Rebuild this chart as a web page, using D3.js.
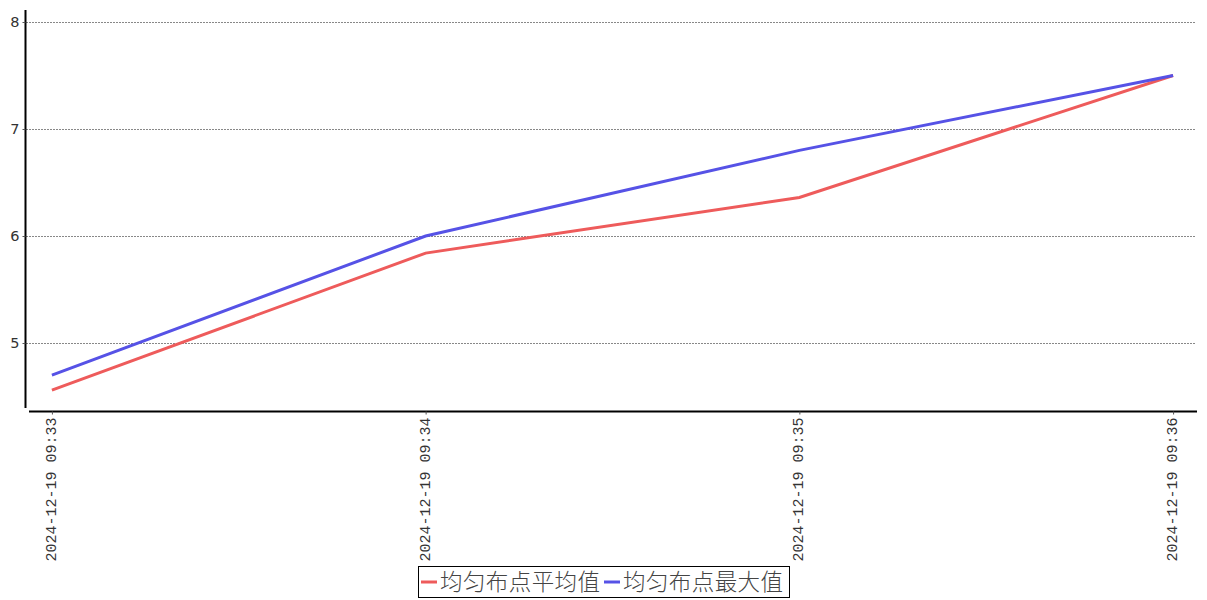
<!DOCTYPE html>
<html>
<head>
<meta charset="utf-8">
<script src="https://cdn.jsdelivr.net/npm/d3@7"></script>
<style>
  body { margin: 0; background: #fff; }
  svg { display: block; }
</style>
</head>
<body>
<svg id="chart" width="1207" height="600"></svg>
<script>
// chart data
const times = ["2024-12-19 09:33", "2024-12-19 09:34", "2024-12-19 09:35", "2024-12-19 09:36"];
const avgValues = [4.56, 5.84, 6.36, 7.50];
const maxValues = [4.70, 6.00, 6.80, 7.50];
const yTicks = [5, 6, 7, 8];
const seriesNames = ["均匀布点平均值", "均匀布点最大值"];
const seriesColors = ["#ee5b5b", "#5652e6"];

const LEFT = 28, RIGHT = 1197;
const TOP = 10, BOTTOM = 411;

const svg = d3.select("#chart");

const x = d3.scalePoint()
    .domain(times)
    .range([LEFT, RIGHT])
    .padding(0.064);

// 8 sits at y 22, one unit = 107px
const y = d3.scaleLinear()
    .domain([8 - (BOTTOM - 22) / 107, 8 + (22 - TOP) / 107])
    .range([BOTTOM, TOP]);

// grid lines
svg.append("g")
    .selectAll("line")
    .data(yTicks)
    .join("line")
    .attr("x1", 26)
    .attr("x2", 1196)
    .attr("y1", d => Math.round(y(d)) + 0.5)
    .attr("y2", d => Math.round(y(d)) + 0.5)
    .attr("stroke", "#888")
    .attr("stroke-width", 1)
    .attr("stroke-dasharray", "2,1");

// y axis
const yAxis = svg.append("g")
    .attr("transform", "translate(25.5,0)")
    .call(d3.axisLeft(y).tickValues(yTicks).tickSize(3).tickFormat(d3.format("d")));
yAxis.select(".domain").attr("d", "M0," + TOP + "V408").attr("stroke", "#000").attr("stroke-width", 2);
yAxis.selectAll(".tick line").attr("stroke", "#555");
yAxis.selectAll(".tick text")
    .attr("x", -6)
    .attr("font-family", "DejaVu Sans, sans-serif")
    .attr("font-size", 14.5)
    .attr("fill", "#333");

// x axis
const xAxis = svg.append("g")
    .attr("transform", "translate(0," + (BOTTOM + 0.5) + ")")
    .call(d3.axisBottom(x).tickSize(3).tickSizeOuter(0));
xAxis.select(".domain").attr("d", "M29,0H" + RIGHT).attr("stroke", "#000").attr("stroke-width", 2);
xAxis.selectAll(".tick line").attr("stroke", "#555");
xAxis.selectAll(".tick text")
    .attr("transform", "rotate(-90)")
    .attr("text-anchor", "end")
    .attr("dominant-baseline", "central")
    .attr("x", -6)
    .attr("y", 0)
    .attr("dy", null)
    .attr("font-family", "Liberation Mono, monospace")
    .attr("font-size", 15)
    .attr("fill", "#333");

// lines
const line = d3.line()
    .x((d, i) => x(times[i]))
    .y(d => y(d));

[avgValues, maxValues].forEach((vals, k) => {
    svg.append("path")
        .datum(vals)
        .attr("d", line)
        .attr("fill", "none")
        .attr("stroke", seriesColors[k])
        .attr("stroke-width", 3);
});

// legend
const legend = svg.append("g");
legend.append("rect")
    .attr("x", 418.5)
    .attr("y", 566.5)
    .attr("width", 371)
    .attr("height", 31)
    .attr("fill", "#fff")
    .attr("stroke", "#000")
    .attr("stroke-width", 1);

let lx = 421;
seriesNames.forEach((name, k) => {
    legend.append("line")
        .attr("x1", lx)
        .attr("x2", lx + 16)
        .attr("y1", 582)
        .attr("y2", 582)
        .attr("stroke", seriesColors[k])
        .attr("stroke-width", 3);
    legend.append("text")
        .attr("x", lx + 19)
        .attr("y", 590)
        .attr("font-family", "Noto Sans CJK SC, sans-serif")
        .attr("font-size", 22.5)
        .attr("font-weight", 300)
        .attr("fill", "#444")
        .attr("textLength", 160)
        .text(name);
    lx += 183;
});
</script>
</body>
</html>
